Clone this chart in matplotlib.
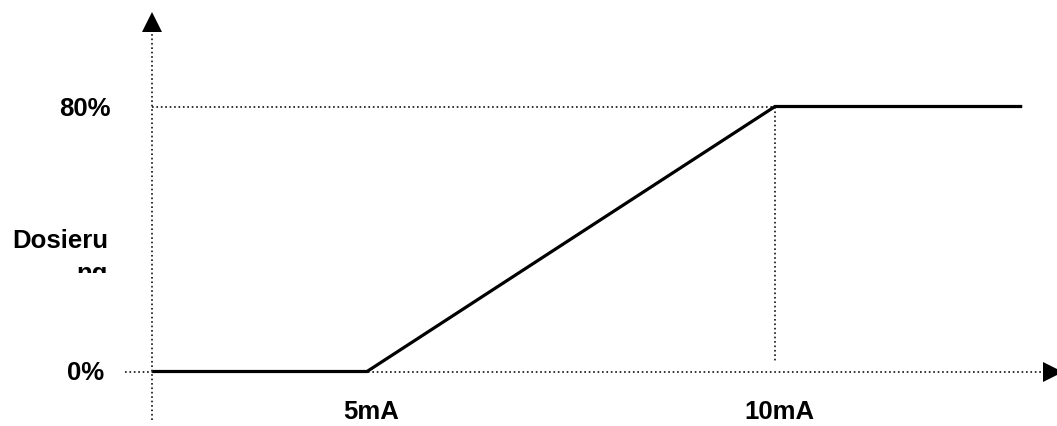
import matplotlib
matplotlib.use('Agg')
import matplotlib.pyplot as plt
from matplotlib.transforms import Bbox, TransformedBbox

# characteristic: dosing (%) vs. input current (mA)
current_ma = [2.37, 5, 10, 13.03]
dosing_pct = [0, 0, 80, 80]

x_tick_vals = [5, 10]
x_tick_labels = ['5mA', '10mA']
y_tick_vals = [0, 80]
y_tick_labels = ['0%', '80%']
y_label = 'Dosierung'

# layout (pixels -> data): x_px = -41 + 81.6*mA, y_px = 371.5 - 3.3125*pct
px_per_ma = 81.6
ma_offset = -41.0
px_per_pct = 3.3125
y0_px = 371.5
W, H = 1057, 426


def mx(px):
    return (px - ma_offset) / px_per_ma


def my(py):
    return (y0_px - py) / px_per_pct


fig = plt.figure(figsize=(W / 100, H / 100), dpi=100)
ax = fig.add_axes([0, 0, 1, 1])
ax.set_xlim(mx(0), mx(W))
ax.set_ylim(my(H), my(0))
ax.axis('off')

dot = dict(color='#111111', linestyle=':', linewidth=1.2)
x_org = current_ma[0]

# axes with arrow heads
ax.plot([x_org, x_org], [my(420), my(32)], **dot)
ax.plot([mx(125), mx(1043)], [0, 0], **dot)
ax.plot([x_org], [my(22)], marker='^', markersize=14.6, color='black',
        markeredgewidth=0, clip_on=False)
ax.plot([mx(1052.5)], [0], marker='>', markersize=15, color='black',
        markeredgewidth=0, clip_on=False)

# guide lines
ax.plot([x_org, current_ma[2]], [dosing_pct[2], dosing_pct[2]], **dot)
ax.plot([current_ma[2], current_ma[2]], [dosing_pct[2], my(363)], **dot)

# characteristic curve
ax.plot(current_ma, dosing_pct, color='black', linewidth=2.3,
        solid_joinstyle='miter', solid_capstyle='butt')

font = dict(family=['Liberation Sans', 'DejaVu Sans'], fontsize=18.5,
            fontweight='bold')

for v, lab in zip(x_tick_vals, x_tick_labels):
    ax.text(v + 0.05, my(412), lab, ha='center', va='center', **font)

ax.text(mx(104), my(372.5), y_tick_labels[0], ha='right', va='center', **font)
ax.text(mx(110.5), my(109), y_tick_labels[1], ha='right', va='center', **font)

# y label wraps in a narrow box: second line is cut off
ax.text(mx(108), my(248), y_label[:7], ha='right', va='baseline', **font)
t = ax.text(mx(108), my(281), y_label[7:], ha='right', va='baseline', **font)
clip = TransformedBbox(Bbox([[mx(0), my(273)], [mx(200), my(255)]]),
                       ax.transData)
t.set_clip_box(clip)
t.set_clip_on(True)

fig.savefig('out.png', dpi=100)
